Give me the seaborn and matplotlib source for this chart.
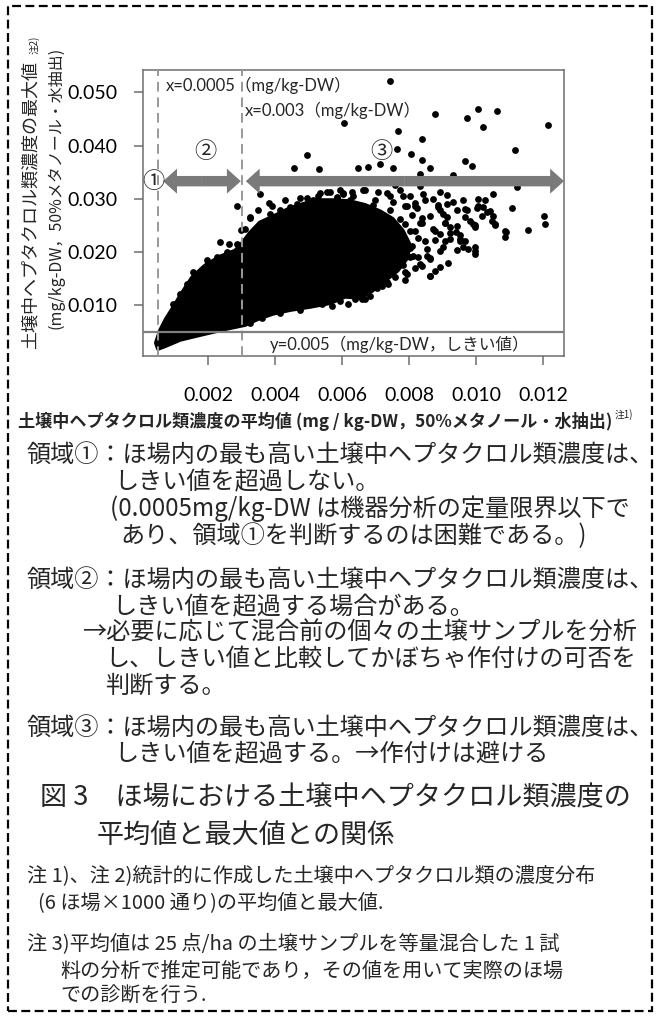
import numpy as np
import matplotlib.pyplot as plt
import seaborn as sns
from matplotlib.patches import FancyArrowPatch, Rectangle

# solid black core of the point cloud (outline)
core_top_x = [0.00044, 0.00056, 0.00074, 0.00095, 0.00122, 0.00152, 0.00190, 0.00235, 0.00280, 0.00301,
              0.00325, 0.00354, 0.00399, 0.00444, 0.00489, 0.00534, 0.00578, 0.00623, 0.00668, 0.00713,
              0.00750, 0.00780, 0.00800]
core_top_y = [0.0029, 0.0052, 0.0074, 0.0095, 0.0123, 0.0152, 0.0174, 0.0191, 0.0202, 0.0216,
              0.0236, 0.0255, 0.0268, 0.0282, 0.0291, 0.0297, 0.0297, 0.0295, 0.0288, 0.0276,
              0.0262, 0.0240, 0.0215]
core_bot_x = [0.00795, 0.00765, 0.00727, 0.00689, 0.00653, 0.00608, 0.00564, 0.00504, 0.00444, 0.00393,
              0.00348, 0.00310, 0.00250, 0.00175, 0.00116, 0.00071, 0.00050]
core_bot_y = [0.0190, 0.0165, 0.0146, 0.0127, 0.0114, 0.0116, 0.0104, 0.0097, 0.0091, 0.0084,
              0.0074, 0.0063, 0.0055, 0.0044, 0.0035, 0.0023, 0.0018]

# single points (mean, max) outside the solid core
mean_x = [
    # high outliers
    0.00742, 0.00605, 0.00877, 0.00971, 0.01006, 0.01061, 0.01021, 0.01215, 0.00765, 0.00837,
    0.00762, 0.00804, 0.00837, 0.00862, 0.01116, 0.00966, 0.00986, 0.00752, 0.00713, 0.00678,
    0.00648, 0.00832, 0.00931, 0.00494, 0.00456, 0.00531, 0.00551,
    # right side
    0.00583, 0.00603, 0.01121, 0.01051, 0.01106, 0.01202, 0.01205, 0.01155, 0.01089, 0.01086,
    0.00996, 0.00966, 0.00971, 0.01051, 0.01056, 0.01041, 0.01026, 0.01006, 0.00996, 0.00961,
    0.00976, 0.00941, 0.00951, 0.00877, 0.00862, 0.00832, 0.00827, 0.00852, 0.00787, 0.00792,
    0.00733, 0.00718, 0.00703, 0.00658, 0.00638, 0.00568, 0.00539, 0.00673, 0.00707, 0.00752,
    0.00772, 0.00802, 0.01046, 0.01031, 0.01019, 0.00966, 0.00981, 0.00991, 0.00931, 0.00912,
    0.00892, 0.00901, 0.00921, 0.00951, 0.00996,
    # around the core
    0.00772, 0.00802, 0.00817, 0.00847, 0.00862, 0.00832, 0.00877, 0.00847, 0.00907, 0.00802,
    0.00787, 0.00742, 0.00707, 0.00668, 0.00629, 0.00593, 0.00563, 0.00527, 0.00474, 0.00429,
    0.00390, 0.00348, 0.00324, 0.00310, 0.00757, 0.00832, 0.00892, 0.00907, 0.00808, 0.00892,
    0.00862, 0.00915, 0.00817, 0.00757, 0.00736, 0.00682, 0.00593, 0.00474, 0.00414, 0.00360,
    0.00324, 0.00617,
    # left part
    0.00354, 0.00382, 0.00285, 0.00297, 0.00235, 0.00263, 0.00285, 0.00155, 0.00195, 0.00225,
    0.00116, 0.00096, 0.00136, 0.00255,
    # ragged top edge of the core
    0.00325, 0.00354, 0.00384, 0.00414, 0.00444, 0.00465, 0.00495, 0.00513, 0.00534, 0.00554,
    0.00584, 0.00602, 0.00623,
    # crowded band right of the core
    0.00632, 0.00662, 0.00698, 0.00733, 0.00751, 0.00781, 0.00817, 0.00841, 0.00871, 0.00886,
    0.00913, 0.00960, 0.01005,
    0.00644, 0.00674, 0.00692, 0.00718, 0.00742, 0.00772, 0.00793, 0.00808, 0.00823, 0.00838,
    0.00886, 0.00913, 0.00943, 0.01002, 0.01017,
    0.00632, 0.00659, 0.00683, 0.00713, 0.00733, 0.00763, 0.00787, 0.00817, 0.00838, 0.00871,
    0.00892, 0.00907, 0.00921, 0.00943, 0.00952, 0.00996, 0.01056, 0.01086,
    0.00772, 0.00802, 0.00826, 0.00853, 0.00877, 0.00901, 0.00921, 0.00943, 0.00966, 0.00996,
    0.00751, 0.00781, 0.00811, 0.00838, 0.00862, 0.00892,
    0.00698, 0.00721, 0.00742, 0.00787, 0.00862,
    0.00640, 0.00668,
]
max_y = [
    0.0522, 0.0442, 0.0460, 0.0451, 0.0468, 0.0465, 0.0435, 0.0438, 0.0427, 0.0413,
    0.0394, 0.0385, 0.0372, 0.0357, 0.0391, 0.0371, 0.0361, 0.0358, 0.0365, 0.0360,
    0.0357, 0.0347, 0.0344, 0.0383, 0.0358, 0.0355, 0.0338,
    0.0303, 0.0309, 0.0322, 0.0309, 0.0283, 0.0268, 0.0253, 0.0242, 0.0237, 0.0228,
    0.0251, 0.0265, 0.0278, 0.0268, 0.0253, 0.0277, 0.0297, 0.0300, 0.0196, 0.0209,
    0.0206, 0.0237, 0.0225, 0.0165, 0.0155, 0.0177, 0.0190, 0.0193, 0.0163, 0.0158,
    0.0143, 0.0136, 0.0133, 0.0111, 0.0111, 0.0099, 0.0102, 0.0130, 0.0146, 0.0171,
    0.0184, 0.0190, 0.0259, 0.0275, 0.0284, 0.0281, 0.0259, 0.0253, 0.0294, 0.0291,
    0.0278, 0.0272, 0.0246, 0.0221, 0.0201,
    0.0316, 0.0306, 0.0287, 0.0297, 0.0268, 0.0255, 0.0240, 0.0221, 0.0221, 0.0240,
    0.0287, 0.0306, 0.0312, 0.0316, 0.0312, 0.0316, 0.0312, 0.0306, 0.0301, 0.0297,
    0.0287, 0.0278, 0.0263, 0.0244, 0.0325, 0.0323, 0.0312, 0.0255, 0.0212, 0.0202,
    0.0187, 0.0180, 0.0169, 0.0152, 0.0140, 0.0118, 0.0108, 0.0091, 0.0085, 0.0076,
    0.0067, 0.0102,
    0.0309, 0.0292, 0.0286, 0.0242, 0.0218, 0.0215, 0.0214, 0.0163, 0.0184, 0.0190,
    0.0121, 0.0102, 0.0140, 0.0199,
    0.0265, 0.0253, 0.0272, 0.0278, 0.0284, 0.0291, 0.0302, 0.0297, 0.0310, 0.0312,
    0.0302, 0.0310, 0.0297,
    0.0305, 0.0316, 0.0298, 0.0311, 0.0294, 0.0306, 0.0292, 0.0309, 0.0300, 0.0288,
    0.0307, 0.0297, 0.0286,
    0.0284, 0.0271, 0.0288, 0.0266, 0.0279, 0.0262, 0.0286, 0.0269, 0.0283, 0.0264,
    0.0285, 0.0265, 0.0278, 0.0282, 0.0268,
    0.0253, 0.0238, 0.0256, 0.0241, 0.0257, 0.0234, 0.0252, 0.0240, 0.0255, 0.0243,
    0.0233, 0.0254, 0.0236, 0.0249, 0.0231, 0.0247, 0.0250, 0.0239,
    0.0224, 0.0208, 0.0226, 0.0206, 0.0222, 0.0209, 0.0225, 0.0204, 0.0220, 0.0210,
    0.0190, 0.0176, 0.0193, 0.0174, 0.0189, 0.0172,
    0.0156, 0.0145, 0.0158, 0.0147, 0.0154,
    0.0118, 0.0112,
]

x_ticks = [0.002, 0.004, 0.006, 0.008, 0.010, 0.012]
y_ticks = [0.010, 0.020, 0.030, 0.040, 0.050]
x_lines = [0.0005, 0.003]
y_line = 0.005

body_lines = [
    (27, 455, '領域①：ほ場内の最も高い土壌中ヘプタクロル類濃度は、'),
    (114, 482, 'しきい値を超過しない。'),
    (110, 509, '(0.0005mg/kg-DW は機器分析の定量限界以下で'),
    (120, 536, 'あり、領域①を判断するのは困難である。)'),
    (27, 580, '領域②：ほ場内の最も高い土壌中ヘプタクロル類濃度は、'),
    (112, 607, 'しきい値を超過する場合がある。'),
    (82, 633, '→必要に応じて混合前の個々の土壌サンプルを分析'),
    (105, 659, 'し、しきい値と比較してかぼちゃ作付けの可否を'),
    (105, 686, '判断する。'),
    (27, 728, '領域③：ほ場内の最も高い土壌中ヘプタクロル類濃度は、'),
    (114, 754, 'しきい値を超過する。→作付けは避ける'),
]
caption_lines = [
    (40, 798, '図 3　ほ場における土壌中ヘプタクロル類濃度の'),
    (97, 835, '平均値と最大値との関係'),
]
note_lines = [
    (27, 877, '注 1)、注 2)統計的に作成した土壌中ヘプタクロル類の濃度分布'),
    (38, 903, '(6 ほ場×1000 通り)の平均値と最大値.'),
    (27, 945, '注 3)平均値は 25 点/ha の土壌サンプルを等量混合した 1 試'),
    (60, 971, '料の分析で推定可能であり，その値を用いて実際のほ場'),
    (60, 996, 'での診断を行う.'),
]

sns.set_theme(style='white')
plt.rcParams['font.family'] = ['Noto Sans CJK JP', 'DejaVu Sans']
latin = ['Lato', 'Noto Sans CJK JP']

W, H = 657, 1016
fig = plt.figure(figsize=(W / 100, H / 100), dpi=100)
fig.patch.set_facecolor('white')
ax = fig.add_axes([143 / W, 1 - 356 / H, 421 / W, 286 / H])

# dense cloud + scattered points
ax.fill(core_top_x + core_bot_x, core_top_y + core_bot_y, color='black', lw=3,
        joinstyle='round', zorder=2)
sns.scatterplot(x=mean_x, y=max_y, ax=ax, s=24, color='black', linewidth=0, zorder=3)

for xv in x_lines:
    ax.axvline(xv, color='#999999', lw=1.4, ls=(0, (5, 3)), zorder=4)
ax.axhline(y_line, color='#7f7f7f', lw=1.6, zorder=4)


def double_arrow(x0, x1, y):
    mid = (x0 + x1) / 2
    for end in (x0, x1):
        ax.add_patch(FancyArrowPatch((mid, y), (end, y),
                                     arrowstyle='simple,head_length=10,head_width=18,tail_width=7.5',
                                     mutation_scale=1, shrinkA=0, shrinkB=0,
                                     fc='#7a7a7a', ec='none', zorder=5))


double_arrow(0.00065, 0.00297, 0.0333)
double_arrow(0.00312, 0.01262, 0.0333)

ax.text(0.00035, 0.0333, '①', fontsize=16, ha='center', va='center', zorder=6)
ax.text(0.0019, 0.0389, '②', fontsize=16, ha='center', va='center', zorder=6)
ax.text(0.00716, 0.0389, '③', fontsize=16, ha='center', va='center', zorder=6)

ax.text(0.00074, 0.0514, 'x=0.0005（mg/kg-DW）', family=latin, fontsize=12, va='center')
ax.text(0.0031, 0.0467, 'x=0.003（mg/kg-DW）', family=latin, fontsize=12, va='center')
ax.text(0.00384, 0.0027, 'y=0.005（mg/kg-DW，しきい値）', family=latin, fontsize=12, va='center')

ax.set_xlim(0.00005, 0.01262)
ax.set_ylim(0.00043, 0.0542)
ax.set_xticks(x_ticks, labels=[f'{v:.3f}' for v in x_ticks])
ax.set_yticks(y_ticks, labels=[f'{v:.3f}' for v in y_ticks])
for lab in ax.get_xticklabels() + ax.get_yticklabels():
    lab.set_family(latin)
ax.tick_params(bottom=True, left=True, direction='out', length=6.5, width=1.1,
               color='#6d6d6d', labelsize=14, labelcolor='black')
ax.tick_params(axis='x', pad=16)
ax.tick_params(axis='y', pad=12)
ax.set_xlabel('')
ax.set_ylabel('')
for s in ax.spines.values():
    s.set_color('#6d6d6d')
    s.set_linewidth(1.1)


def ftext(px, py, s, **kw):
    return fig.text(px / W, 1 - py / H, s, **kw)


# axis titles
ftext(31, 205, '土壌中ヘプタクロル類濃度の最大値', rotation=90, fontsize=13,
      ha='center', va='center')
ftext(34, 45, '注2)', rotation=90, fontsize=7, ha='center', va='center')
ftext(56, 188, '(mg/kg-DW，50%メタノール・水抽出)', rotation=90, fontsize=11.5,
      ha='center', va='center')
xl = ftext(18, 421, '土壌中ヘプタクロル類濃度の平均値 (mg / kg-DW，50%メタノール・水抽出)',
           fontsize=12.3, weight='bold', va='center')
fig.canvas.draw()
bb = xl.get_window_extent()
fig.text(bb.x1 / W + 0.003, 1 - 415 / H, '注1)', fontsize=7, va='center')

for px, py, s in body_lines:
    ftext(px, py, s, fontsize=17.4, va='center')
for px, py, s in caption_lines:
    ftext(px, py, s, fontsize=19.5, va='center')
for px, py, s in note_lines:
    ftext(px, py, s, fontsize=14.5, va='center')

# dashed frame around the whole figure
fig.patches.append(Rectangle((8 / W, 1 - 1011 / H), 644 / W, 1005 / H, transform=fig.transFigure,
                             fill=False, ec='black', lw=1.6, ls=(0, (4, 2))))

fig.savefig('out.png', dpi=100, facecolor='white')
